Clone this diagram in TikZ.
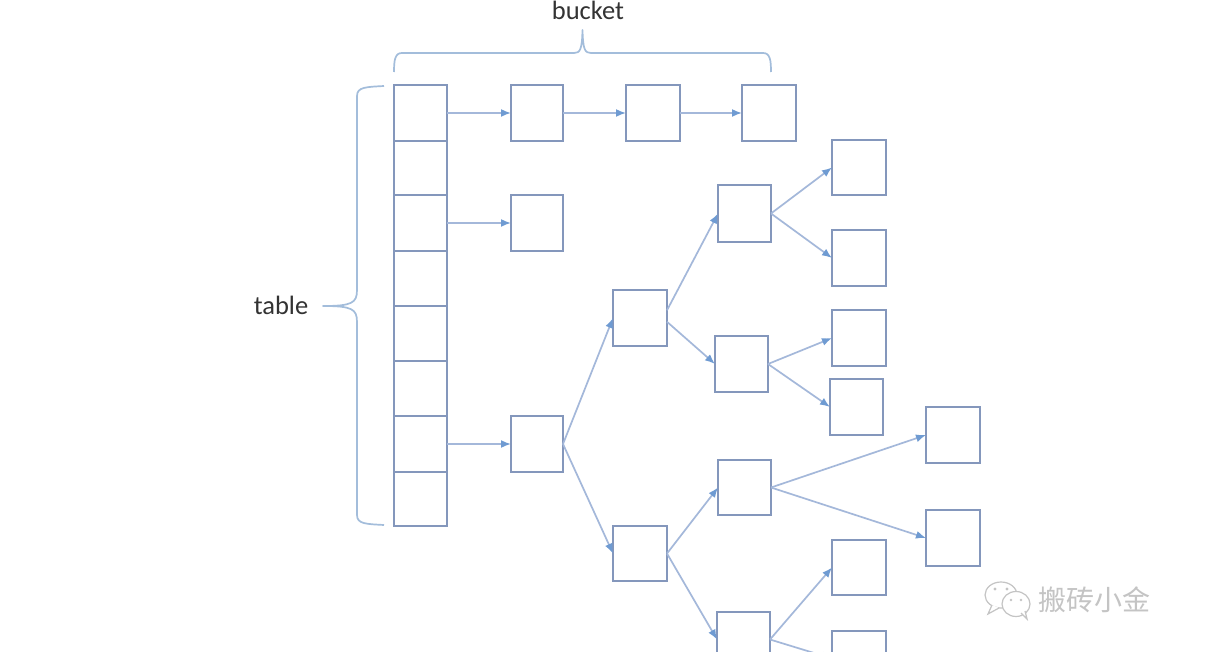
\documentclass[tikz,border=0pt]{standalone}
\usepackage{fontspec}
\setmainfont{Carlito}
\newfontfamily\cjkwm{Noto Sans CJK SC}
\usetikzlibrary{arrows.meta}
\definecolor{boxc}{HTML}{8497BC}
\definecolor{linec}{HTML}{A4B8DA}
\definecolor{tipc}{HTML}{6F9BD2}
\definecolor{bracec}{HTML}{A3BDDB}
\definecolor{wmc}{HTML}{C4C4C4}
\tikzset{
  cell/.style={draw=boxc,line width=1.5pt,fill=white,inner sep=0pt,outer sep=0pt},
  link/.style={draw=linec,line width=1.7pt,-{Latex[length=10pt,width=8pt,color=tipc]}},
  bracket/.style={draw=bracec,line width=1.7pt,line join=round},
  lab/.style={font=\fontsize{26.5}{30}\selectfont,text=black!80,inner sep=0pt},
  wmtext/.style={font=\cjkwm\fontsize{28}{32}\selectfont,text=wmc,inner sep=0pt},
  wmicon/.style={draw=wmc,line width=1.2pt,fill=white}
}
\newcommand{\bx}[5]{%
  \pgfmathsetmacro{\bxw}{#4-#2}\pgfmathsetmacro{\bxh}{#5-#3}%
  \pgfmathsetmacro{\bxx}{(#4+#2)/2}\pgfmathsetmacro{\bxy}{(#5+#3)/2}%
  \node[cell,minimum width=\bxw pt,minimum height=\bxh pt] (#1) at (\bxx,\bxy) {};}
\begin{document}
\begin{tikzpicture}[x=1pt,y=-1pt]
\useasboundingbox (0,0) rectangle (1210,652);
\clip (0,0) rectangle (1210,652);
\fill[white] (0,0) rectangle (1210,652);
% table column
\bx{t1}{394}{85}{447}{141}
\bx{t2}{394}{141}{447}{195}
\bx{t3}{394}{195}{447}{251}
\bx{t4}{394}{251}{447}{306}
\bx{t5}{394}{306}{447}{361}
\bx{t6}{394}{361}{447}{416}
\bx{t7}{394}{416}{447}{472}
\bx{t8}{394}{472}{447}{526}
% chain
\bx{a1}{511}{85}{563}{141}
\bx{a2}{626}{85}{680}{141}
\bx{a3}{742}{85}{796}{141}
\bx{b1}{511}{195}{563}{251}
% tree
\bx{c1}{511}{416}{563}{472}
\bx{d1}{613}{290}{667}{346}
\bx{d2}{613}{526}{667}{581}
\bx{e1}{718}{185}{771}{242}
\bx{e2}{715}{336}{768}{392}
\bx{e3}{718}{460}{771}{515}
\bx{e4}{717}{612}{770}{667}
\bx{f1}{832}{140}{886}{195}
\bx{f2}{832}{230}{886}{286}
\bx{f3}{832}{310}{886}{366}
\bx{f4}{830}{379}{883}{435}
\bx{g1}{926}{407}{980}{463}
\bx{g2}{926}{510}{980}{566}
\bx{f5}{832}{540}{886}{595}
\bx{f6}{832}{631}{886}{686}
% connectors
\draw[link] (t1.east) -- (a1.west);
\draw[link] (a1.east) -- (a2.west);
\draw[link] (a2.east) -- (a3.west);
\draw[link] (t3.east) -- (b1.west);
\draw[link] (t7.east) -- (c1.west);
\draw[link] (c1.east) -- (d1.west);
\draw[link] (c1.east) -- (d2.west);
\draw[link] (d1.16) -- (e1.west);
\draw[link] (d1.-8) -- (e2.west);
\draw[link] (d2.east) -- (e3.west);
\draw[link] (d2.east) -- (e4.west);
\draw[link] (e1.east) -- (f1.west);
\draw[link] (e1.east) -- (f2.west);
\draw[link] (e2.east) -- (f3.west);
\draw[link] (e2.east) -- (f4.west);
\draw[link] (e3.east) -- (g1.west);
\draw[link] (e3.east) -- (g2.west);
\draw[link] (e4.east) -- (f5.west);
\draw[link] (e4.east) -- (f6.west);
% braces
\draw[bracket] (394,72) .. controls (394,60) and (395,53) .. (402,53) -- (574,53)
  .. controls (580,53) and (582,50) .. (582.5,30)
  .. controls (583,50) and (585,53) .. (591,53) -- (763,53)
  .. controls (770,53) and (771,60) .. (771,72);
\draw[bracket] (384,86) .. controls (366,87) and (357,87) .. (357,96) -- (357,290)
  .. controls (357,303) and (352,306) .. (323,306)
  .. controls (352,306) and (357,309) .. (357,322) -- (357,515)
  .. controls (357,524) and (366,524) .. (384,525);
% labels
\node[lab,anchor=base] (bucket) at (588,19.5) {bucket};
\node[lab] (table) at (281,305) {table};
% watermark
\draw[wmicon] (1001,595) ellipse (16 and 13);
\draw[wmicon] (992,605) -- (988,614) -- (999,608);
\draw[wmicon] (1016,604) ellipse (14 and 12.5);
\draw[wmicon] (1021,613) -- (1027,619) -- (1025,611);
\fill[wmc] (995,589) circle (1.6) (1007,589) circle (1.6) (1011,600) circle (1.3) (1021,600) circle (1.3);
\node[wmtext] (wm) at (1094,600) {搬砖小金};
\end{tikzpicture}
\end{document}
